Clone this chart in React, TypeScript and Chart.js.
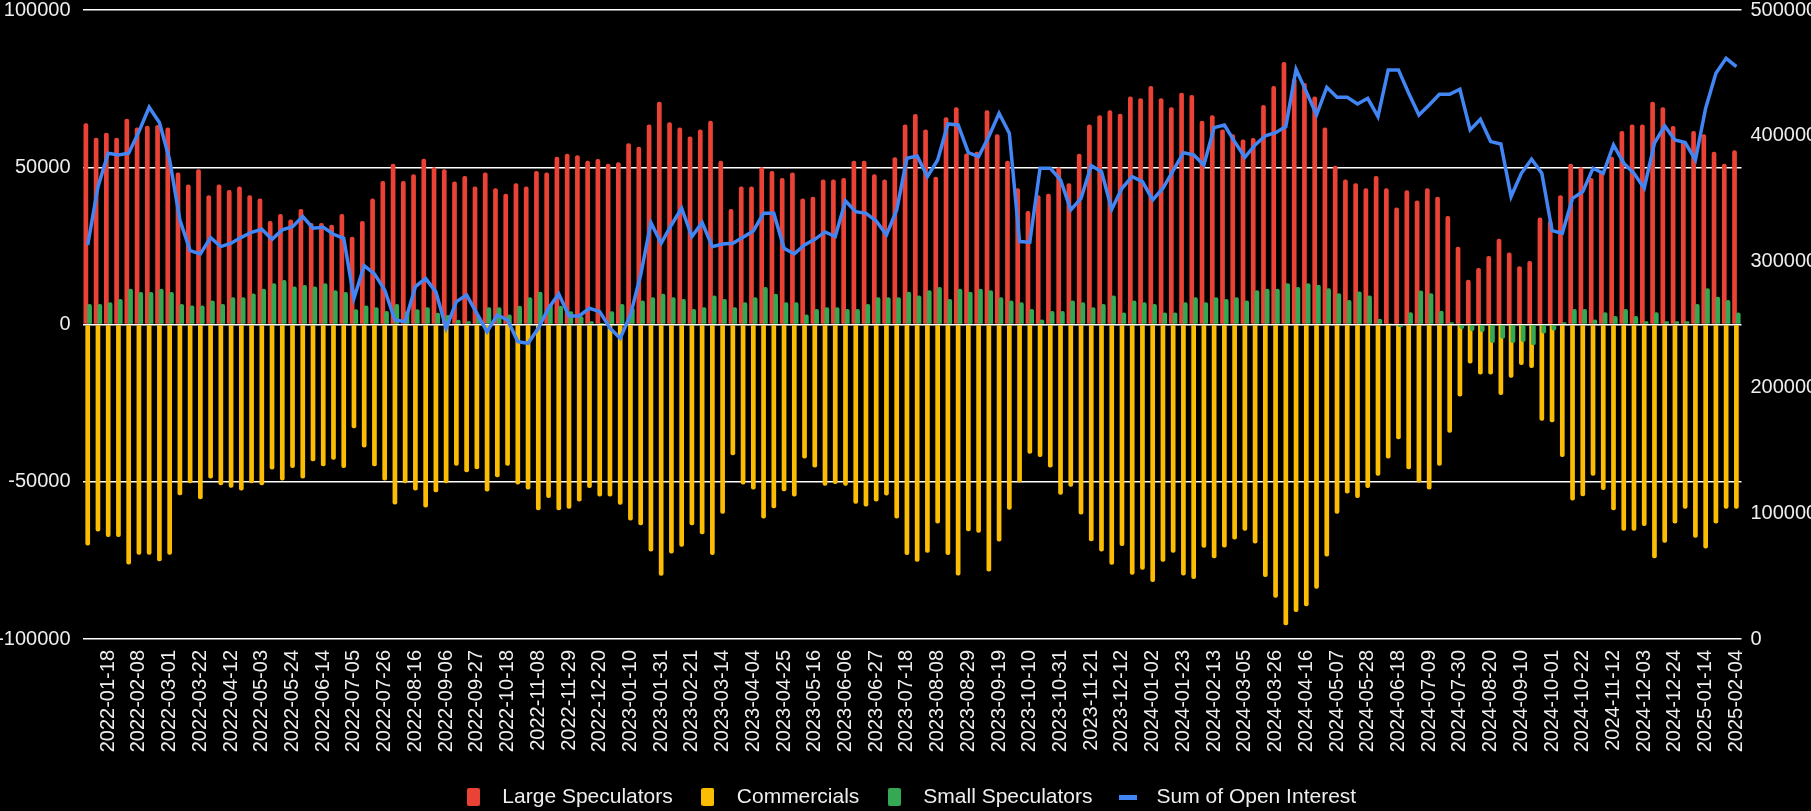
import React, { useEffect, useRef } from 'react';
import { Chart, registerables } from 'chart.js';

Chart.register(...registerables);

const dates: string[] = [
  '2022-01-04','2022-01-11','2022-01-18','2022-01-25','2022-02-01','2022-02-08','2022-02-15','2022-02-22','2022-03-01','2022-03-08',
  '2022-03-15','2022-03-22','2022-03-29','2022-04-05','2022-04-12','2022-04-19','2022-04-26','2022-05-03','2022-05-10','2022-05-17',
  '2022-05-24','2022-05-31','2022-06-07','2022-06-14','2022-06-21','2022-06-28','2022-07-05','2022-07-12','2022-07-19','2022-07-26',
  '2022-08-02','2022-08-09','2022-08-16','2022-08-23','2022-08-30','2022-09-06','2022-09-13','2022-09-20','2022-09-27','2022-10-04',
  '2022-10-11','2022-10-18','2022-10-25','2022-11-01','2022-11-08','2022-11-15','2022-11-22','2022-11-29','2022-12-06','2022-12-13',
  '2022-12-20','2022-12-27',
  '2023-01-03','2023-01-10','2023-01-17','2023-01-24','2023-01-31','2023-02-07','2023-02-14','2023-02-21','2023-02-28','2023-03-07',
  '2023-03-14','2023-03-21','2023-03-28','2023-04-04','2023-04-11','2023-04-18','2023-04-25','2023-05-02','2023-05-09','2023-05-16',
  '2023-05-23','2023-05-30','2023-06-06','2023-06-13','2023-06-20','2023-06-27','2023-07-04','2023-07-11','2023-07-18','2023-07-25',
  '2023-08-01','2023-08-08','2023-08-15','2023-08-22','2023-08-29','2023-09-05','2023-09-12','2023-09-19','2023-09-26','2023-10-03',
  '2023-10-10','2023-10-17','2023-10-24','2023-10-31','2023-11-07','2023-11-14','2023-11-21','2023-11-28','2023-12-05','2023-12-12',
  '2023-12-19','2023-12-26',
  '2024-01-02','2024-01-09','2024-01-16','2024-01-23','2024-01-30','2024-02-06','2024-02-13','2024-02-20','2024-02-27','2024-03-05',
  '2024-03-12','2024-03-19','2024-03-26','2024-04-02','2024-04-09','2024-04-16','2024-04-23','2024-04-30','2024-05-07','2024-05-14',
  '2024-05-21','2024-05-28','2024-06-04','2024-06-11','2024-06-18','2024-06-25','2024-07-02','2024-07-09','2024-07-16','2024-07-23',
  '2024-07-30','2024-08-06','2024-08-13','2024-08-20','2024-08-27','2024-09-03','2024-09-10','2024-09-17','2024-09-24','2024-10-01',
  '2024-10-08','2024-10-15','2024-10-22','2024-10-29','2024-11-05','2024-11-12','2024-11-19','2024-11-26','2024-12-03','2024-12-10',
  '2024-12-17','2024-12-24','2024-12-31',
  '2025-01-07','2025-01-14','2025-01-21','2025-01-28','2025-02-04',
];

const largeSpeculators: number[] = [
  64000, 59400, 61000, 59400, 65400, 62600, 63200, 63400, 62600, 48300, 44500, 49400, 41100, 44500, 42800, 43900, 41100, 40100,
  32900, 35100, 33400, 36700, 32300, 32300, 31700, 35100, 27900, 32900, 40100, 45600, 51100, 45600, 47800, 52700, 50000, 49400,
  45500, 47200, 43900, 48300, 43300, 41600, 44900, 43900, 48800, 48300, 53300, 54300, 53800, 52100, 52600, 51100, 51600, 57600,
  56500, 63600, 70800, 64300, 62600, 59800, 62000, 64800, 52100, 36700, 43900, 43900, 50000, 48800, 46600, 48300, 40100, 40600,
  46100, 46100, 46600, 52100, 52100, 47800, 46100,
  53200, 63600, 66900, 62000, 47000, 65900, 69100, 54400, 54900, 68100, 60500, 52100, 43300, 36100, 41100, 41600, 50000, 44900,
  54300, 63600, 66500, 68100, 67000, 72500, 71900, 75800, 71900, 69100, 73700, 73000, 64800, 66500, 62000, 60500, 58800, 59300,
  69800, 75800, 83500, 78200, 76800, 72500,
  62600, 50500, 46100, 44900, 43300, 47200, 43300, 37200, 42700, 39400, 43300, 40600, 34500, 24700, 14200, 18000, 21800, 27300,
  22900, 18500, 20200, 34000, 33000, 41100, 51100, 50000, 46600, 48800, 53300, 61500, 63600, 63600, 70800, 69100, 63100, 58100,
  61500, 60500, 54900, 51100, 55400,
];

const commercials: number[] = [
  -70300, -65800, -67600, -67600, -76300, -73200, -73200, -75300, -73200, -54300, -50500, -55600, -49000, -51100, -51900, -52800,
  -50500, -51100, -46100, -49600, -45600, -49000, -43500, -45100, -43000, -45600, -33000, -39100, -45100, -49600, -57200, -50500,
  -52800, -58200, -53300, -50500,
  -44900, -47000, -46000, -53100, -48600, -44900, -50900, -52500, -59100, -55200, -59100, -58600, -56300, -52000, -54700, -54700,
  -57300, -62300, -63800, -72200, -79900, -72800, -70700, -63800, -66700, -73300, -60200, -41600, -50900, -52500, -61700, -58400,
  -53000, -54700, -42600, -45500, -51300, -50700, -51300, -57000, -57900, -56300, -54400,
  -61700, -73300, -75400, -72600, -63300, -73300, -79800, -65700, -66200, -78500, -69000, -58900, -50200, -41100, -42100, -45500,
  -54100, -51600, -60400, -68900, -72200, -76400, -70400, -79600, -78000, -81900, -75400, -72600, -79800, -80900, -71000, -74300,
  -70900, -68400, -65600, -69600, -80300, -86900, -95600, -91400, -89600, -84000,
  -73800, -60200, -53700, -55200, -52000, -48100, -42600, -36500, -46000, -50200, -52500, -44900, -34400, -22900, -12400, -15900,
  -15900, -22400, -16900, -12900, -13800, -30600, -31100, -42100, -56000, -54600, -48100, -52600, -59100, -65600, -65600, -64100,
  -74300, -69400, -63300, -58600, -67800, -71200, -63300, -58600, -58600,
];

const smallSpeculators: number[] = [
  6550, 6550, 7080, 8140, 11400, 10360, 10360, 11400, 10360, 6550, 6020, 6020, 7610, 6550, 8670, 8670, 9830, 11400, 13100, 14160,
  12050, 12580, 12050, 13100, 10900, 10360, 4860, 6020, 5500, 4330, 6550, 4200, 4860, 5500, 3700, 3000,
  1500, 1000, 2600, 5500, 5500, 3200, 6000, 8700, 10400, 6500, 6000, 4200, 2600, 1000, 500, 4200, 6500, 5300, 7600, 8700, 9800,
  8700, 8100, 4900, 5500, 9200, 8100, 5500, 7100, 8700, 11900, 9800, 7100, 7100, 3200, 4900, 5500, 5500, 4900, 4900, 6500, 8700, 8700,
  8700, 10400, 9200, 10900, 11900, 8100, 11400, 10400, 11400, 10900, 8700, 7600, 7100, 4900, 1600, 4300, 4300, 7600, 7100, 5500,
  6500, 9200, 3800, 7600, 7100, 6500, 3800, 3800, 7100, 8700, 7100, 8700, 8100, 8700, 7600, 10900, 11400, 11400, 13100, 11900,
  13100, 12600,
  11500, 9900, 7800, 10500, 9200, 1800, 300, -800, 3900, 10800, 9900, 4400, 700, -1400, -2100, -2400, -5900, -4500, -5900, -5600,
  -6600, -2900, -1900, 700, 4900, 4900, 1600, 3900, 2700, 4900, 2700, 1000, 3900, 1000, 1000, 1000, 6500, 11500, 8800, 7800, 3800,
];

const openInterest: number[] = [
  313200, 359600, 386100, 384800, 386100, 403300, 422700, 410500, 380800, 333100, 308700, 306100, 319100, 311900, 314600, 319300,
  323300, 325700, 317700, 325200, 327800, 335800, 326500, 327300, 321700, 318500, 270800, 296800, 290200, 277500, 253600, 252300,
  280100, 286500, 275900, 247000,
  268200, 273500, 258900, 244300, 257600, 253600, 236400, 235100, 247000, 262900, 274300, 256800, 256800, 262900, 260200, 247000,
  239000, 257600, 289400, 331000, 314600, 329100, 342400, 319900, 331000, 311900, 314000, 314600, 319300, 324400, 338400, 338400,
  310600, 306100, 313200, 317700, 323600, 319900, 348200, 339700, 338400, 332300, 321200,
  341100, 382100, 384000, 367600, 380800, 409400, 408600, 386600, 383500, 399400, 417900, 402000, 315900, 315400, 374200, 374200,
  364900, 341100, 350300, 376300, 371500, 341600, 358300, 367600, 363600, 349000, 358300, 372300, 386600, 384800, 376800, 406500,
  408600, 395400, 382900, 392700, 399900, 402500, 407300, 452900, 435100, 416600,
  438500, 430600, 430600, 425300, 429800, 415300, 452400, 452400, 433800, 416600, 424500, 433000, 433000, 437000, 404700, 413100,
  395400, 393500, 351700, 370200, 381300, 370200, 324600, 322500, 350300, 355600, 374200, 370200, 392700, 378200, 370200, 358300,
  394100, 407800, 396700, 394600, 380800, 421900, 449700, 461600, 455000,
];

const seriesNames = ['Large Speculators', 'Commercials', 'Small Speculators', 'Sum of Open Interest'];
const seriesColors = ['#EA4335', '#FBBC04', '#34A853', '#4285F4'];

const TEXT = '#eeeeee';
const FONT = '"Liberation Sans", Arial, Helvetica, sans-serif';

function makeRectMarker(color: string): HTMLCanvasElement {
  const c = document.createElement('canvas');
  c.width = 13;
  c.height = 18;
  const g = c.getContext('2d')!;
  g.fillStyle = color;
  g.beginPath();
  const r = 2;
  g.moveTo(r, 0);
  g.lineTo(13 - r, 0);
  g.quadraticCurveTo(13, 0, 13, r);
  g.lineTo(13, 18 - r);
  g.quadraticCurveTo(13, 18, 13 - r, 18);
  g.lineTo(r, 18);
  g.quadraticCurveTo(0, 18, 0, 18 - r);
  g.lineTo(0, r);
  g.quadraticCurveTo(0, 0, r, 0);
  g.fill();
  return c;
}

function makeLineMarker(color: string): HTMLCanvasElement {
  const c = document.createElement('canvas');
  c.width = 18;
  c.height = 5;
  const g = c.getContext('2d')!;
  g.fillStyle = color;
  g.fillRect(0, 0, 18, 5);
  return c;
}

export default function App() {
  const ref = useRef<HTMLCanvasElement | null>(null);

  useEffect(() => {
    document.body.style.margin = '0';
    document.body.style.background = '#000';
    if (!ref.current) return;

    const markers = [
      makeRectMarker(seriesColors[0]),
      makeRectMarker(seriesColors[1]),
      makeRectMarker(seriesColors[2]),
      makeLineMarker(seriesColors[3]),
    ];

    // draw the green series after the red one so it sits on top; the line stays on top of all
    const greenOnTop = {
      id: 'greenOnTop',
      beforeDatasetDraw(_chart: any, args: any) {
        if (args.index === 2) return false;
        return true;
      },
      afterDatasetDraw(chart: any, args: any) {
        if (args.index === 0) {
          const meta = chart.getDatasetMeta(2);
          if (meta && meta.controller) meta.controller.draw();
        }
      },
    };

    const barCommon = {
      type: 'bar' as const,
      yAxisID: 'y',
      order: 1,
      barPercentage: 2.54,
      categoryPercentage: 0.542,
      borderRadius: 2,
      borderWidth: 0,
    };

    const chart = new Chart(ref.current, {
      type: 'bar',
      data: {
        labels: dates,
        datasets: [
          { ...barCommon, label: seriesNames[0], data: largeSpeculators, backgroundColor: seriesColors[0] },
          { ...barCommon, label: seriesNames[1], data: commercials, backgroundColor: seriesColors[1] },
          { ...barCommon, label: seriesNames[2], data: smallSpeculators, backgroundColor: seriesColors[2] },
          {
            type: 'line' as const,
            label: seriesNames[3],
            data: openInterest,
            yAxisID: 'y1',
            order: 0,
            borderColor: seriesColors[3],
            backgroundColor: seriesColors[3],
            borderWidth: 3.5,
            pointRadius: 0,
            pointHoverRadius: 0,
            tension: 0,
            fill: false,
          },
        ] as any,
      },
      plugins: [greenOnTop],
      options: {
        responsive: false,
        animation: false,
        events: [],
        font: { family: FONT },
        layout: { padding: { top: 10, bottom: -6.5, left: 0, right: 0 } },
        plugins: {
          tooltip: { enabled: false },
          title: { display: false },
          legend: {
            position: 'bottom',
            labels: {
              usePointStyle: true,
              pointStyleWidth: 37,
              boxHeight: 18,
              padding: 16.5,
              color: TEXT,
              font: { size: 21, family: FONT },
              generateLabels: (ch: any) =>
                ch.data.datasets.map((ds: any, i: number) => ({
                  text: ds.label,
                  fillStyle: seriesColors[i],
                  strokeStyle: seriesColors[i],
                  lineWidth: 0,
                  pointStyle: markers[i],
                  hidden: !ch.isDatasetVisible(i),
                  datasetIndex: i,
                  fontColor: TEXT,
                })),
            },
          },
        },
        scales: {
          x: {
            type: 'category',
            offset: true,
            grid: { display: false, drawTicks: false },
            border: { display: false },
            ticks: {
              color: TEXT,
              font: { size: 20, family: FONT },
              minRotation: 90,
              maxRotation: 90,
              autoSkip: false,
              padding: 11,
              callback: (_v: any, i: number) => (i % 3 === 2 ? dates[i] : ''),
            },
            afterFit: (s: any) => {
              s.height = 131;
            },
          },
          y: {
            position: 'left',
            min: -100000,
            max: 100000,
            grid: { color: '#ffffff', lineWidth: 1.5, drawTicks: false },
            border: { display: false },
            ticks: {
              stepSize: 50000,
              color: TEXT,
              font: { size: 20, family: FONT },
              padding: 12,
              callback: (v: any) => String(v),
            },
            afterFit: (s: any) => {
              s.width = 82.6;
              s.paddingTop = 0;
              s.paddingBottom = 0;
            },
          },
          y1: {
            position: 'right',
            min: 0,
            max: 500000,
            grid: { display: false, drawTicks: false },
            border: { display: false },
            ticks: {
              stepSize: 100000,
              color: TEXT,
              font: { size: 20, family: FONT },
              padding: 9,
              callback: (v: any) => String(v),
            },
            afterFit: (s: any) => {
              s.width = 69.5;
              s.paddingTop = 0;
              s.paddingBottom = 0;
            },
          },
        },
      } as any,
    });

    return () => chart.destroy();
  }, []);

  return (
    <div style={{ width: 1811, height: 811, background: '#000' }}>
      <canvas ref={ref} width={1811} height={811} style={{ display: 'block' }} />
    </div>
  );
}
